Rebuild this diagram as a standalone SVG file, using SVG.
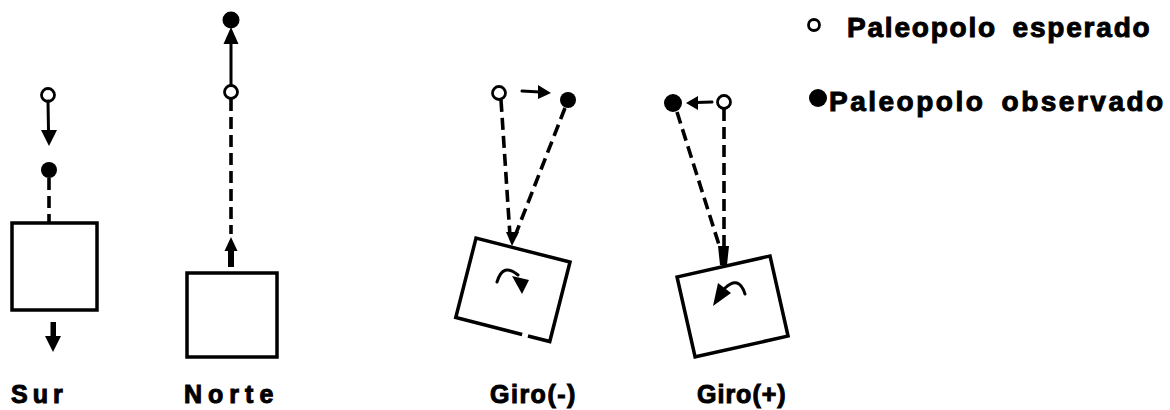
<svg xmlns="http://www.w3.org/2000/svg" width="1170" height="410" viewBox="0 0 1170 410">
  <style>
    .line { stroke: #000; stroke-width: 3; fill: none; stroke-linecap: round; }
    .dash { stroke: #000; stroke-width: 3.6; fill: none; stroke-dasharray: 12 6; }
    .box { stroke: #000; stroke-width: 3.5; fill: #fff; stroke-linejoin: miter; }
    .open { stroke: #000; stroke-width: 2.8; fill: #fff; }
    .dot { fill: #000; }
    .head { fill: #000; }
    .label { font-family: "Liberation Sans", Arial, sans-serif; font-weight: bold; font-size: 25px; fill: #000; stroke: #000; stroke-width: 1; }
    .legend { font-family: "Liberation Sans", Arial, sans-serif; font-weight: bold; font-size: 28px; fill: #000; stroke: #000; stroke-width: 1; word-spacing: 6px; }
  </style>
  <rect width="1170" height="410" fill="#fff"/>

  <!-- Sur: pole displaced toward the block, block moves south -->
  <g id="sur">
    <rect class="box" x="12" y="223" width="85" height="87"/>
    <circle class="open" cx="48" cy="95" r="6.5"/>
    <circle class="dot" cx="49" cy="170" r="8"/>
    <rect class="head" x="50.5" y="322" width="5.5" height="17"/>
    <polygon class="head" points="45,336 61,336 53,352"/>
    <text class="label" x="11" y="403" letter-spacing="5">Sur</text>
  </g>

  <!-- Norte: pole displaced away from the block, block moves north -->
  <g id="norte">
    <rect class="box" x="187" y="273" width="90" height="84"/>
    <circle class="dot" cx="231" cy="20" r="8.5"/>
    <circle class="open" cx="231" cy="92" r="6.5"/>
    <rect class="head" x="228" y="249" width="6" height="18"/>
    <polygon class="head" points="224.5,251 237.5,251 231,237"/>
    <text class="label" x="184" y="403" letter-spacing="6">Norte</text>
  </g>

  <!-- Giro(-): clockwise rotation of the block -->
  <g id="giro-neg">
    <g transform="translate(512.9 289.8) rotate(14.3)">
      <path class="box" d="M20,41 H-48.5 V-41 H48.5 V41 H26"/>
    </g>
    <path class="line" d="M497,282 Q503,262 518,275"/>
    <polygon class="head" points="512,276 529,280 522,294"/>
    <circle class="open" cx="499" cy="93" r="6.5"/>
    <circle class="dot" cx="568" cy="100" r="8"/>
    <text class="label" x="490" y="403" letter-spacing="1.5">Giro(-)</text>
  </g>

  <!-- Giro(+): counter-clockwise rotation of the block -->
  <g id="giro-pos">
    <g transform="translate(732.5 306.5) rotate(-12.7)">
      <rect class="box" x="-47.6" y="-41" width="95.3" height="82"/>
    </g>
    <path class="line" d="M745,294 Q739,275 725,288"/>
    <polygon class="head" points="718,283 731,293 713,306"/>
    <polygon class="head" points="718,246 729,246 727,265 720,265"/>
    <circle class="dot" cx="673" cy="103" r="9"/>
    <circle class="open" cx="724" cy="102" r="6.5"/>
    <text class="label" x="697" y="403" letter-spacing="1">Giro(+)</text>
  </g>

  <!-- Legend -->
  <g id="legend-esperado">
    <circle class="open" cx="814" cy="25" r="5.5"/>
    <text class="legend" x="847" y="37" letter-spacing="1.8">Paleopolo esperado</text>
  </g>
  <g id="legend-observado">
    <circle class="dot" cx="818" cy="98" r="9"/>
    <text class="legend" x="829" y="111" letter-spacing="2.5">Paleopolo observado</text>
  </g>

  <!-- Connectors: pole paths and displacement arrows -->
  <g id="connectors">
    <!-- Sur -->
    <line class="line" x1="48" y1="101" x2="48.5" y2="131"/>
    <polygon class="head" points="41,130 57,130 49,146"/>
    <line class="dash" x1="49" y1="178" x2="49" y2="222"/>
    <!-- Norte -->
    <line class="line" x1="231" y1="85" x2="231" y2="42"/>
    <polygon class="head" points="223.5,44 238.5,44 231,27"/>
    <line class="dash" x1="231" y1="99" x2="231" y2="234"/>
    <!-- Giro(-) -->
    <line class="line" x1="522" y1="91" x2="540" y2="92"/>
    <polygon class="head" points="538,85 551,93 538,99"/>
    <line class="dash" x1="501" y1="100" x2="510" y2="236"/>
    <line class="dash" x1="565" y1="108" x2="515" y2="236"/>
    <polygon class="head" points="506,232 519,232 512,246"/>
    <!-- Giro(+) -->
    <line class="line" x1="712" y1="102" x2="696" y2="102.5"/>
    <polygon class="head" points="698,96 698,110 686,103"/>
    <line class="dash" x1="724" y1="109" x2="724" y2="248"/>
    <line class="dash" x1="677" y1="112" x2="720" y2="248"/>
  </g>
</svg>
